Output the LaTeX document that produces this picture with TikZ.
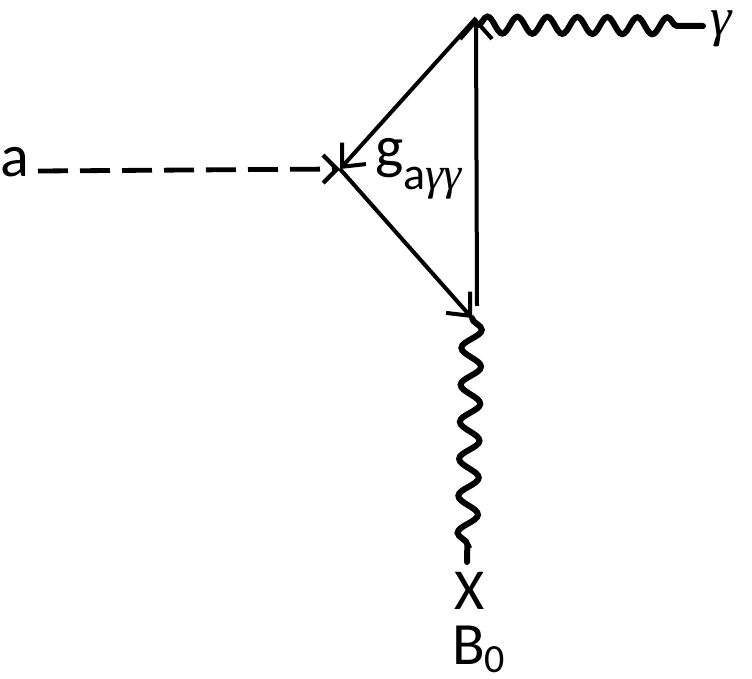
\documentclass[tikz,border=0pt]{standalone}
\usepackage{fontspec}
\setmainfont{Carlito}
\newfontfamily\grk{Liberation Serif}
\usetikzlibrary{arrows.meta,decorations.pathmorphing}
\begin{document}
\begin{tikzpicture}[x=1pt,y=-1pt,
  fermion/.style={line width=4pt,-{Straight Barb[length=18pt,width=32pt,line width=4pt]}},
  scalar/.style={line width=4.8pt,dash pattern=on 30pt off 12pt,-{Straight Barb[length=14pt,width=28pt,line width=4.2pt]}},
  photonh/.style={line width=6pt,line cap=round,decorate,decoration={snake,amplitude=8.5pt,segment length=30pt,post length=16pt}},
  photonv/.style={line width=6pt,line cap=round,decorate,decoration={snake,amplitude=10pt,segment length=37pt,post length=16pt}},
  lbl/.style={inner sep=0pt,outer sep=0pt}]
\useasboundingbox (0,0) rectangle (752,679);
\coordinate (L) at (340,169);
\coordinate (T) at (476,18);
\coordinate (B) at (472,318);
\coordinate (Vb) at (477,306);
\coordinate (Gs) at (478,25);
\coordinate (Ge) at (703,26);
\coordinate (Xe) at (467,562);
\node[lbl,anchor=base west] (a) at (0,177) {\fontsize{60}{62}\selectfont a};
\coordinate (As) at (38,171);
\node[lbl,anchor=base west] (g) at (375,168) {\fontsize{60}{64}\selectfont g\raisebox{-22pt}{\fontsize{46}{48}\selectfont a{\grk\itshape γγ}}};
\node[lbl,anchor=base west] (gam) at (710,36) {\fontsize{54}{58}\selectfont\grk\itshape γ};
\node[lbl,anchor=base] (X) at (470,609) {\fontsize{58}{60}\selectfont X};
\node[lbl,anchor=base west] (B0) at (452,664) {\fontsize{60}{64}\selectfont B};
\node[lbl,anchor=base west] (B0s) at ([yshift=-8pt]B0.base east) {\fontsize{40}{42}\selectfont 0};
\draw[scalar] (As) -- (L);
\draw[fermion] (T) -- (L);
\draw[fermion] (L) -- (B);
\draw[fermion] (Vb) -- (T);
\draw[photonh] (Gs) -- (Ge);
\draw[photonv] (B) -- (Xe);
\end{tikzpicture}
\end{document}
